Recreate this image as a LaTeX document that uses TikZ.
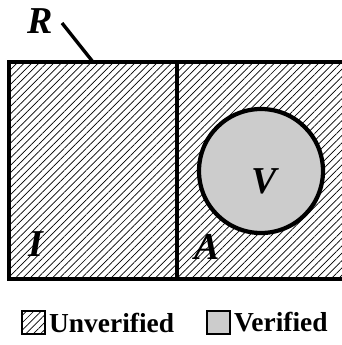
\documentclass[tikz,border=0pt]{standalone}
\usepackage{fontspec}
\setmainfont{Liberation Serif}
\usetikzlibrary{positioning,patterns.meta}
\definecolor{VerGray}{RGB}{204,204,204}
\tikzset{
  hatch/.style={pattern={Lines[angle=45,distance=3.7pt,line width=0.5pt]},pattern color=black},
  region/.style={draw=black,line width=3pt},
  setlabel/.style={font=\fontsize{27}{30}\selectfont\bfseries\itshape,inner sep=0pt},
  legtext/.style={font=\fontsize{19.5}{22}\selectfont\bfseries,inner sep=0pt,anchor=west},
  legbox/.style={draw=black,line width=1.3pt,minimum size=23*0.025cm,inner sep=0pt}
}
\begin{document}
\begin{tikzpicture}[x=0.025cm,y=-0.025cm]
  \useasboundingbox (0,0) rectangle (342,345);
  \clip (0,0) rectangle (342,345);
  % the two hatched halves of R
  \path[hatch] (9,62) rectangle (177,279);
  \path[hatch] (177,62) rectangle (352,279);
  \draw[region] (352,62) -- (9,62) -- (9,279) -- (352,279);
  \draw[region] (177,62) -- (177,279);
  % verified set
  \node[circle,draw=black,line width=3pt,fill=VerGray,minimum size=124*0.025cm,inner sep=0pt] (vset) at (261,171) {};
  \node[setlabel] (vlab) at (264,181) {V};
  \node[setlabel] (ilab) at (36,244) {I};
  \node[setlabel] (alab) at (207,247) {A};
  % R with its leader
  \node[setlabel] (rlab) at (40,21) {R};
  \coordinate (rfoot) at (62,23);
  \coordinate (rtop) at (93,62);
  \draw[line width=2.4pt] (rfoot) -- (rtop);
  % legend
  \node[legbox,hatch] (lhatch) at (33.5,322.5) {};
  \node[legtext,right=3*0.025cm of lhatch] (lunv) {Unverified};
  \node[legbox,fill=VerGray] (lgray) at (218.5,322.5) {};
  \node[legtext,right=3*0.025cm of lgray] (lver) {Verified};
\end{tikzpicture}
\end{document}
